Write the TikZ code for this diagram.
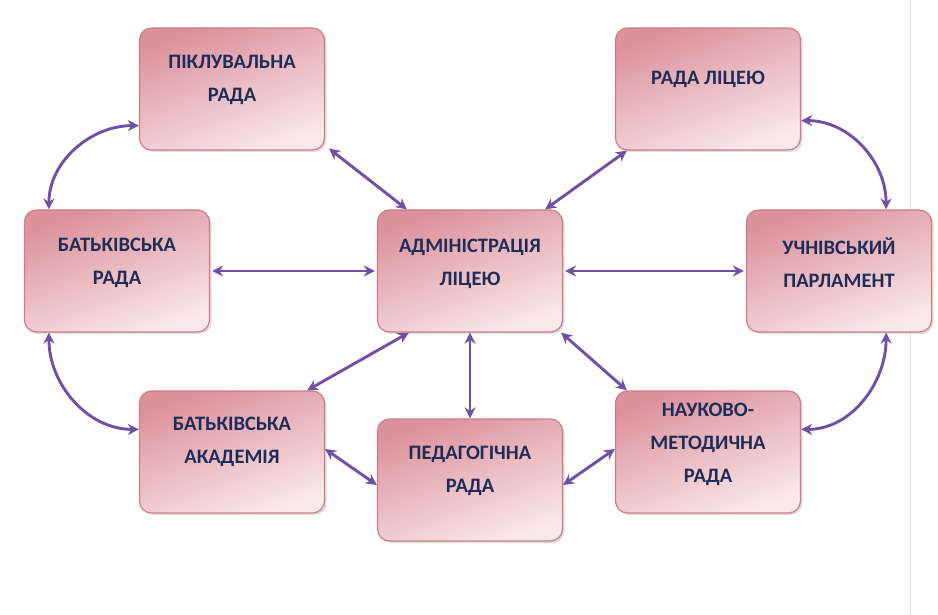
\documentclass[tikz,border=0pt]{standalone}
\usepackage{fontspec}
\setmainfont{Carlito}
\usetikzlibrary{arrows.meta,shadows}
\definecolor{boxedge}{RGB}{205,125,135}
\definecolor{boxtop}{RGB}{220,145,155}
\definecolor{boxbot}{RGB}{250,232,235}
\definecolor{txt}{RGB}{30,45,88}
\definecolor{arr}{RGB}{112,80,165}
\tikzset{
  box/.style={draw=boxedge, line width=1.2pt, rounded corners=12pt,
    minimum width=185pt, minimum height=122pt,
    top color=boxtop, bottom color=boxbot, shading angle=20,
    drop shadow={shadow xshift=2pt, shadow yshift=-2pt, opacity=0.25}},
  lbl/.style={align=center, text=txt, font=\bfseries\fontsize{20.5}{33}\selectfont},
  link/.style={arr, line width=2.9pt, {Stealth[length=11pt,width=11pt]}-{Stealth[length=11pt,width=11pt]}}
}
\begin{document}
\begin{tikzpicture}[x=1pt,y=-1pt]
\useasboundingbox (0,0) rectangle (938,615);
\fill[white] (0,0) rectangle (938,615);
\draw[black!12, line width=1pt] (910,0) -- (910,615);
\node[box] (pik) at (232,89) {};
\node[box] (rada) at (708,89) {};
\node[box] (bat) at (117,271) {};
\node[box] (adm) at (470,271) {};
\node[box] (uch) at (839,271) {};
\node[box] (akad) at (232,452) {};
\node[box] (ped) at (470,480) {};
\node[box] (nauk) at (708,452) {};
\node[lbl] (tpik) at ([yshift=9pt]pik.center) {ПІКЛУВАЛЬНА\\РАДА};
\node[lbl] (trada) at ([yshift=10pt]rada.center) {РАДА ЛІЦЕЮ};
\node[lbl] (tbat) at ([yshift=8pt]bat.center) {БАТЬКІВСЬКА\\РАДА};
\node[lbl] (tadm) at ([yshift=7pt]adm.center) {АДМІНІСТРАЦІЯ\\ЛІЦЕЮ};
\node[lbl] (tuch) at ([yshift=8pt]uch.center) {УЧНІВСЬКИЙ\\ПАРЛАМЕНТ};
\node[lbl] (takad) at ([yshift=10pt]akad.center) {БАТЬКІВСЬКА\\АКАДЕМІЯ};
\node[lbl] (tped) at ([yshift=9pt]ped.center) {ПЕДАГОГІЧНА\\РАДА};
\node[lbl] (tnauk) at ([yshift=8pt]nauk.center) {НАУКОВО-\\МЕТОДИЧНА\\РАДА};
% straight links
\draw[link] ([xshift=4pt,yshift=2pt]pik.south east) -- ([xshift=30pt]adm.north west);
\draw[link] ([xshift=12pt]rada.south west) -- ([xshift=-18pt]adm.north east);
\draw[link] ([xshift=2pt]bat.east) -- ([xshift=-2pt]adm.west);
\draw[link] ([xshift=2pt]adm.east) -- ([xshift=-2pt]uch.west);
\draw[link] ([xshift=32pt]adm.south west) -- ([xshift=-18pt]akad.north east);
\draw[link] ([xshift=-2pt]adm.south east) -- ([xshift=12pt]nauk.north west);
\draw[link] (adm.south) -- (ped.north);
\draw[link] ([yshift=3pt]akad.east) -- ([yshift=-5pt]ped.west);
\draw[link] ([yshift=-5pt]ped.east) -- ([yshift=3pt]nauk.west);
% curved links
\draw[link] ([yshift=25pt]pik.south west) to[out=180,in=90] ([xshift=25pt]bat.north west);
\draw[link] ([xshift=25pt]bat.south west) to[out=-90,in=180] ([yshift=-39pt]akad.north west);
\draw[link] ([yshift=30pt]rada.south east) to[out=0,in=90] ([xshift=-46pt]uch.north east);
\draw[link] ([xshift=-46pt]uch.south east) to[out=-90,in=0] ([yshift=-39pt]nauk.north east);
\end{tikzpicture}
\end{document}
